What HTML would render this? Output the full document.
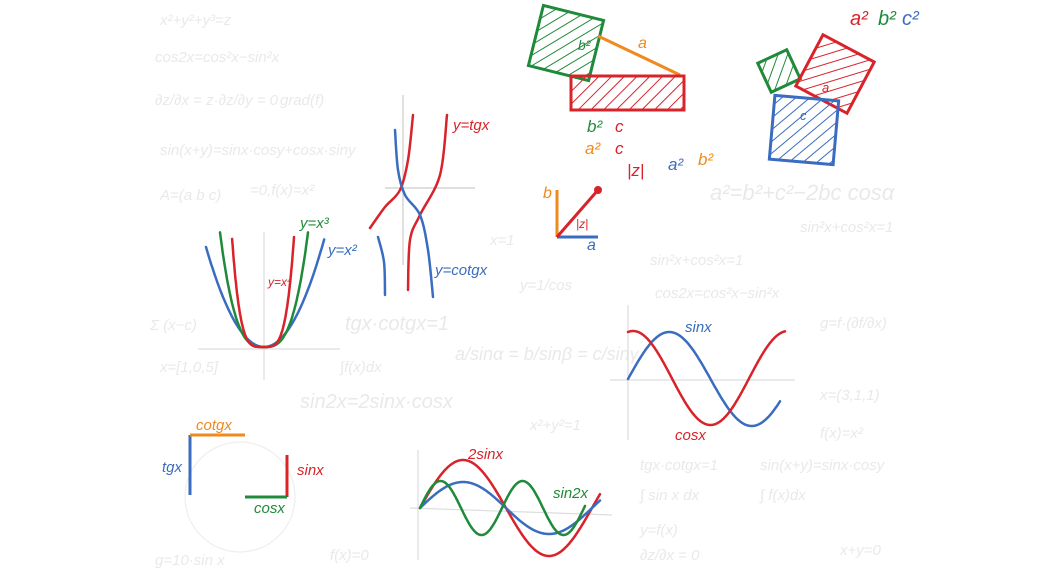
<!DOCTYPE html>
<html><head><meta charset="utf-8">
<style>
html,body{margin:0;padding:0;background:#fff;width:1039px;height:586px;overflow:hidden}
svg{display:block}
text{font-family:"Liberation Sans",sans-serif;font-style:italic}
.bg{fill:#e9e9e9;font-size:15px}
</style></head><body>
<svg id="s" width="1039" height="586" viewBox="0 0 1039 586">
<defs>
<pattern id="hr" width="9" height="9" patternUnits="userSpaceOnUse" patternTransform="rotate(45)"><line x1="0" y1="0" x2="0" y2="9" stroke="#d8232a" stroke-width="2"/></pattern>
<pattern id="hg" width="9" height="9" patternUnits="userSpaceOnUse" patternTransform="rotate(45)"><line x1="0" y1="0" x2="0" y2="9" stroke="#1f8a3a" stroke-width="2"/></pattern>
<pattern id="hb" width="9" height="9" patternUnits="userSpaceOnUse" patternTransform="rotate(45)"><line x1="0" y1="0" x2="0" y2="9" stroke="#3a6cc0" stroke-width="2"/></pattern>
</defs>
<g>
<text class="bg" x="160" y="25">x²+y²+y³=z</text>
<text class="bg" x="155" y="62">cos2x=cos²x−sin²x</text>
<text class="bg" x="155" y="105">∂z/∂x = z·∂z/∂y = 0</text>
<text class="bg" x="280" y="105">grad(f)</text>
<text class="bg" x="160" y="155">sin(x+y)=sinx·cosy+cosx·siny</text>
<text class="bg" x="160" y="200">A=(a b c)</text>
<text class="bg" x="250" y="195">=0,f(x)=x²</text>
<text class="bg" x="150" y="330">Σ (x−c)</text>
<text class="bg" x="160" y="372">x=[1,0,5]</text>
<text class="bg" x="340" y="372">∫f(x)dx</text>
<text class="bg" x="345" y="330" style="font-size:20px">tgx·cotgx=1</text>
<text class="bg" x="455" y="360" style="font-size:18px">a/sinα = b/sinβ = c/sinγ</text>
<text class="bg" x="300" y="408" style="font-size:20px">sin2x=2sinx·cosx</text>
<text class="bg" x="650" y="265">sin²x+cos²x=1</text>
<text class="bg" x="655" y="298">cos2x=cos²x−sin²x</text>
<text class="bg" x="710" y="200" style="font-size:22px">a²=b²+c²−2bc cosα</text>
<text class="bg" x="800" y="232">sin²x+cos²x=1</text>
<text class="bg" x="640" y="470">tgx·cotgx=1</text>
<text class="bg" x="760" y="470">sin(x+y)=sinx·cosy</text>
<text class="bg" x="640" y="500">∫ sin x dx</text>
<text class="bg" x="760" y="500">∫ f(x)dx</text>
<text class="bg" x="640" y="535">y=f(x)</text>
<text class="bg" x="640" y="560">∂z/∂x = 0</text>
<text class="bg" x="840" y="555">x+y=0</text>
<text class="bg" x="820" y="328">g=f·(∂f/∂x)</text>
<text class="bg" x="820" y="400">x=(3,1,1)</text>
<text class="bg" x="820" y="438">f(x)=x²</text>
<text class="bg" x="155" y="565">g=10·sin x</text>
<text class="bg" x="330" y="560">f(x)=0</text>
<text class="bg" x="530" y="430">x²+y²=1</text>
<text class="bg" x="490" y="245">x=1</text>
<text class="bg" x="520" y="290">y=1/cos</text>
</g>
<g stroke="#ddd" stroke-width="1.2">
<line x1="403" y1="95" x2="403" y2="265" stroke="#ccc"/><line x1="385" y1="188" x2="475" y2="188" stroke="#ccc"/>
<line x1="264" y1="232" x2="264" y2="380"/><line x1="198" y1="349" x2="340" y2="349"/>
<line x1="628" y1="305" x2="628" y2="440"/><line x1="610" y1="380" x2="795" y2="380"/>
<line x1="418" y1="450" x2="418" y2="560"/><line x1="410" y1="508" x2="612" y2="515"/>
<circle cx="240" cy="497" r="55" fill="none" stroke="#eee"/>
</g>
<g id="curves" fill="none" stroke-linecap="round" stroke-linejoin="round" stroke-width="2.5"></g>
<g>
<rect x="535" y="12" width="62" height="62" fill="url(#hg)" stroke="#1f8a3a" stroke-width="3" transform="rotate(14 566 43)"/>
<line x1="598" y1="36" x2="680" y2="75" stroke="#ef8a1e" stroke-width="3"/>
<rect x="571" y="76" width="113" height="34" fill="url(#hr)" stroke="#d8232a" stroke-width="3"/>
<text x="638" y="48" fill="#ef8a1e" font-size="16">a</text>
<text x="578" y="50" fill="#1f8a3a" font-size="14">b²</text>
</g>
<g>
<rect x="763" y="55" width="32" height="32" fill="url(#hg)" stroke="#1f8a3a" stroke-width="3" transform="rotate(-25 779 71)"/>
<rect x="806" y="45" width="58" height="58" fill="url(#hr)" stroke="#d8232a" stroke-width="3" transform="rotate(28 835 74)"/>
<rect x="772" y="98" width="64" height="64" fill="url(#hb)" stroke="#3a6cc0" stroke-width="3" transform="rotate(5 804 130)"/>
<text x="822" y="92" fill="#d8232a" font-size="13">a</text>
<text x="800" y="120" fill="#3a6cc0" font-size="13">c</text>
<text x="850" y="25" fill="#d8232a" font-size="20">a²</text>
<text x="878" y="25" fill="#1f8a3a" font-size="20">b²</text>
<text x="902" y="25" fill="#3a6cc0" font-size="20">c²</text>
</g>
<g font-size="17">
<text x="587" y="132" fill="#1f8a3a">b²</text><text x="615" y="132" fill="#d8232a">c</text>
<text x="585" y="154" fill="#ef8a1e">a²</text><text x="615" y="154" fill="#d8232a">c</text>
<text x="627" y="176" fill="#d8232a">|z|</text>
<text x="668" y="170" fill="#3a6cc0">a²</text><text x="698" y="165" fill="#ef8a1e">b²</text>
</g>
<g>
<line x1="557" y1="190" x2="557" y2="237" stroke="#ef8a1e" stroke-width="3"/>
<line x1="557" y1="237" x2="598" y2="237" stroke="#3a6cc0" stroke-width="3"/>
<line x1="557" y1="237" x2="598" y2="190" stroke="#d8232a" stroke-width="3"/>
<circle cx="598" cy="190" r="4" fill="#d8232a"/>
<text x="543" y="198" fill="#ef8a1e" font-size="16">b</text>
<text x="587" y="250" fill="#3a6cc0" font-size="16">a</text>
<text x="576" y="228" fill="#d8232a" font-size="12">|z|</text>
</g>
<g stroke-width="3">
<line x1="190" y1="435" x2="190" y2="495" stroke="#3a6cc0"/>
<line x1="190" y1="435" x2="245" y2="435" stroke="#ef8a1e"/>
<line x1="287" y1="455" x2="287" y2="497" stroke="#d8232a"/>
<line x1="245" y1="497" x2="287" y2="497" stroke="#1f8a3a"/>
<text x="162" y="472" fill="#3a6cc0" font-size="15">tgx</text>
<text x="196" y="430" fill="#ef8a1e" font-size="15">cotgx</text>
<text x="297" y="475" fill="#d8232a" font-size="15">sinx</text>
<text x="254" y="513" fill="#1f8a3a" font-size="15">cosx</text>
</g>
<g font-size="15">
<text x="453" y="130" fill="#d8232a">y=tgx</text>
<text x="435" y="275" fill="#3a6cc0">y=cotgx</text>
<text x="300" y="228" fill="#1f8a3a">y=x³</text>
<text x="328" y="255" fill="#3a6cc0">y=x²</text>
<text x="268" y="286" fill="#d8232a" font-size="12">y=x⁴</text>
<text x="685" y="332" fill="#3a6cc0">sinx</text>
<text x="675" y="440" fill="#d8232a">cosx</text>
<text x="468" y="459" fill="#d8232a">2sinx</text>
<text x="553" y="498" fill="#1f8a3a">sin2x</text>
</g>
</svg>
<script>
const g=document.getElementById('curves');
const tgBranch1=[[370,228],[385,207],[400,190],[408,160],[413,115]];
const tgBranch2=[[408,290],[410,240],[420,215],[440,175],[447,115]];
const cotgBranch1=[[395,130],[398,170],[405,195],[420,215],[428,250],[433,297]];
const cotgBranch2=[[378,237],[384,262],[385,295]];
function addPath(d,color,name){
  const p=document.createElementNS('http://www.w3.org/2000/svg','path');p.setAttribute('d',d);p.setAttribute('stroke',color);
  
  
  g.appendChild(p);}
function smooth(pts,color,name){
  let d='M'+pts[0][0]+','+pts[0][1];
  for(let i=0;i<pts.length-1;i++){const p0=pts[Math.max(i-1,0)],p1=pts[i],p2=pts[i+1],p3=pts[Math.min(i+2,pts.length-1)];
    d+=' C'+(p1[0]+(p2[0]-p0[0])/6)+','+(p1[1]+(p2[1]-p0[1])/6)+' '+(p2[0]-(p3[0]-p1[0])/6)+','+(p2[1]-(p3[1]-p1[1])/6)+' '+p2[0]+','+p2[1];}
  addPath(d,color,name);}
function plot(f,x0,x1,color,name,ymin,ymax){
  ymin=ymin===undefined?-1e9:ymin; ymax=ymax===undefined?1e9:ymax;
  let d='',pen=false;
  for(let i=0;i<=300;i++){const x=x0+(x1-x0)*i/300;const y=f(x);
    if(!isFinite(y)||y<ymin||y>ymax){pen=false;continue;}
    d+=(pen?'L':'M')+x.toFixed(1)+','+y.toFixed(1);pen=true;}
  addPath(d,color,name);}
// parabolas
plot(x=>347-100*Math.pow((x-264)/58,2),206,327,'#3a6cc0','curve-x2',238,400);
plot(x=>347-107*Math.pow(Math.abs((x-264)/43),3),220,308,'#1f8a3a','curve-x3',228,400);
plot(x=>347-110*Math.pow((x-263)/31,4),230,294,'#d8232a','curve-x4',236,400);
// tg / cotg
smooth(tgBranch1,'#d8232a','curve-tg-1');
smooth(tgBranch2,'#d8232a','curve-tg-2');
smooth(cotgBranch1,'#3a6cc0','curve-cotg-1');
smooth(cotgBranch2,'#3a6cc0','curve-cotg-2');
// sin/cos
plot(x=>379-47*Math.sin(2*Math.PI*(x-628)/165),628,780,'#3a6cc0','curve-sinx');
plot(x=>378-47*Math.cos(2*Math.PI*(x-633)/155),628,785,'#d8232a','curve-cosx');
// bottom trig
plot(x=>508-48*Math.sin((x-420)/172*2*Math.PI),420,600,'#d8232a','curve-2sinx');
plot(x=>508-26*Math.sin((x-420)/172*2*Math.PI),420,600,'#3a6cc0','curve-sinx-bottom');
plot(x=>508-27*Math.sin((x-420)/82*2*Math.PI),420,585,'#1f8a3a','curve-sin2x');
</script>
</body></html>
